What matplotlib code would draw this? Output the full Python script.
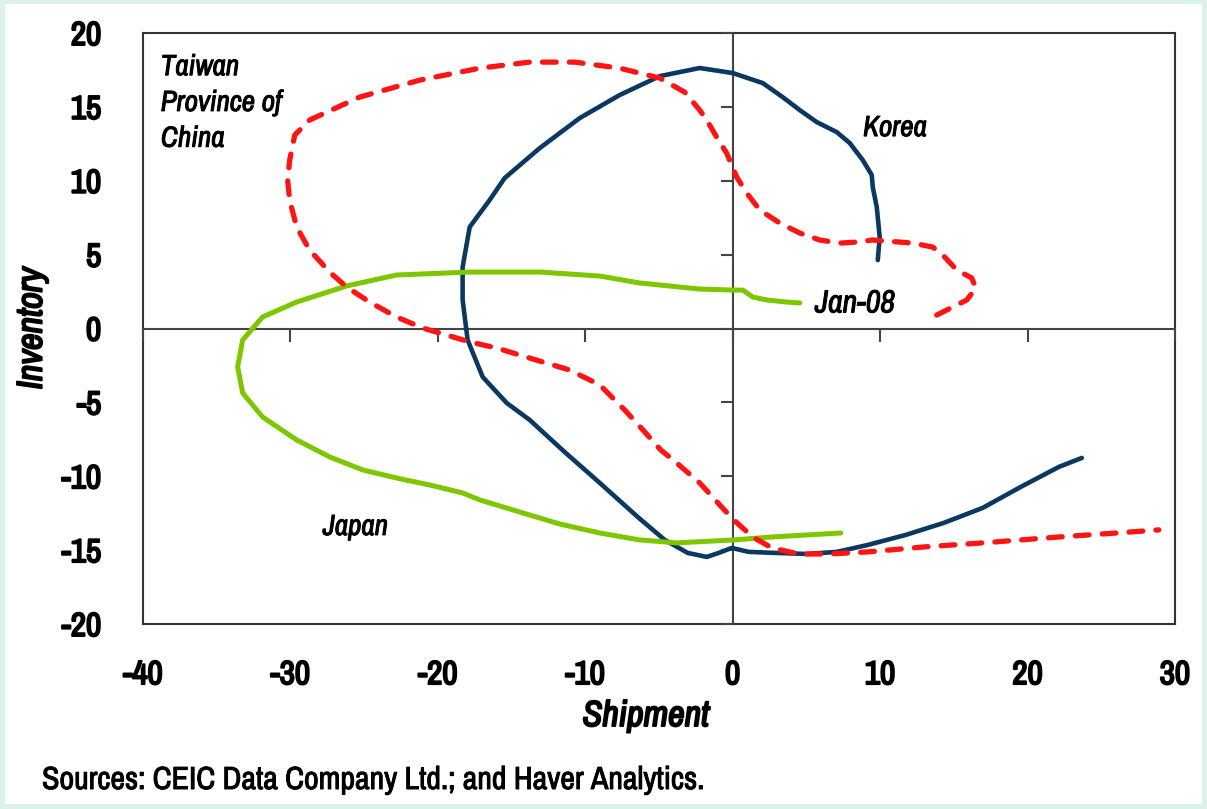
import matplotlib
matplotlib.use("Agg")
import matplotlib.pyplot as plt
from matplotlib.patches import Rectangle
from matplotlib import font_manager as fm
import matplotlib.patheffects as pe

# ---------------- data ----------------
korea_x = [9.84, 9.97, 9.77, 9.50, 9.43, 8.82, 7.94, 7.06, 5.70, 4.55, 3.39, 2.04, 0.0, -2.24,
           -4.95, -7.67, -10.38, -13.09, -15.47, -16.49, -17.84, -18.32, -18.32, -17.98, -16.96,
           -15.33, -13.77, -11.40, -9.02, -6.45, -4.61, -3.05, -1.76, -0.95, -0.07, 1.09, 2.92,
           5.02, 7.06, 9.16, 11.74, 14.31, 16.96, 19.54, 22.12, 23.68]
korea_y = [4.63, 6.19, 8.22, 9.57, 10.39, 11.40, 12.55, 13.29, 13.97, 14.78, 15.66, 16.61, 17.29, 17.63,
           17.08, 15.80, 14.24, 12.21, 10.18, 8.69, 6.87, 4.16, 1.93, -0.78, -3.28,
           -5.04, -6.19, -8.36, -10.45, -12.75, -14.31, -15.19, -15.46, -15.19, -14.85, -15.12, -15.19,
           -15.26, -15.12, -14.65, -13.97, -13.16, -12.14, -10.72, -9.37, -8.76]

japan_x = [4.55, 3.66, 2.31, 1.36, 0.68, 0.0, -2.24, -6.31, -9.02, -13.09, -17.84, -22.80, -26.19,
           -29.58, -31.89, -33.24, -33.58, -33.24, -31.89, -29.58, -27.34, -25.10, -22.80, -20.56,
           -18.32, -17.16, -14.45, -11.74, -9.02, -6.31, -3.80, 0.07, 2.65, 7.33]
japan_y = [1.73, 1.79, 1.93, 2.13, 2.60, 2.60, 2.67, 3.08, 3.55, 3.82, 3.82, 3.62, 2.88,
           1.79, 0.78, -0.78, -2.60, -4.36, -5.99, -7.54, -8.69, -9.57, -10.12, -10.59,
           -11.13, -11.60, -12.42, -13.23, -13.84, -14.31, -14.51, -14.31, -14.11, -13.84]

taiwan_x = [13.84, 15.88, 16.49, 16.21, 15.20, 14.25, 13.57, 12.21, 9.50, 8.41, 7.26, 5.90, 4.55,
            3.19, 1.83, 0.95, 0.27, -0.41, -1.09, -1.76, -2.24, -3.26, -4.95, -7.67, -10.72,
            -13.77, -17.16, -21.23, -25.31, -28.70, -29.71, -30.05, -30.19, -30.05, -29.58, -28.70,
            -27.34, -26.19, -24.63, -22.80, -21.03, -19.40, -17.84, -16.01, -13.77, -11.06, -9.02,
            -7.33, -5.97, -4.88, -3.80, -2.24, -0.75, 0.07, 1.36, 2.65, 4.48, 6.58, 9.16, 13.03,
            16.96, 22.12, 26.05, 28.90]
taiwan_y = [0.91, 1.93, 2.74, 3.42, 3.96, 4.97, 5.51, 5.78, 5.99, 5.85, 5.78, 5.99, 6.46,
            7.14, 8.02, 9.17, 10.25, 11.87, 12.95, 14.11, 14.78, 16.00, 16.95, 17.62, 18.03,
            18.03, 17.62, 16.81, 15.66, 14.11, 13.09, 11.40, 10.05, 8.69, 6.87, 5.31,
            3.82, 2.81, 1.79, 0.78, 0.03, -0.44, -0.91, -1.32, -2.00, -2.81, -3.82,
            -5.51, -7.00, -8.22, -9.10, -10.45, -12.08, -12.96, -14.11, -14.85, -15.26, -15.26, -15.12, -14.78,
            -14.51, -14.11, -13.84, -13.63]

x_ticks = [-40, -30, -20, -10, 0, 10, 20, 30]
y_ticks = [-20, -15, -10, -5, 0, 5, 10, 15, 20]

# ---------------- fonts ----------------
names = {f.name for f in fm.fontManager.ttflist}
FONT = "DejaVu Sans"
for cand in ["Liberation Sans Narrow", "Archivo Narrow", "Roboto Condensed", "PT Sans Narrow",
             "Fira Sans Condensed", "Barlow Semi Condensed", "IBM Plex Sans Condensed",
             "Open Sans Condensed", "Barlow Condensed", "Encode Sans Condensed", "Asap Condensed",
             "Saira Condensed", "Sofia Sans Condensed", "Pathway Gothic One", "Oswald"]:
    if cand in names:
        FONT = cand
        break
plt.rcParams["font.family"] = [FONT, "DejaVu Sans"]

BOLD = [pe.withStroke(linewidth=1.4, foreground="black")]
SEMI = [pe.withStroke(linewidth=0.7, foreground="black")]

NAVY = "#0b3861"
RED = "#ff1414"
GREEN = "#7dc600"

fig = plt.figure(figsize=(12.07, 8.09), dpi=100, facecolor="#dcf1eb")
fig.patches.append(Rectangle((5 / 1207, 5 / 809), 1197 / 1207, 800 / 809,
                             transform=fig.transFigure, facecolor="white", edgecolor="none", zorder=-5))

pos = [143 / 1207, (809 - 624) / 809, (1175 - 143) / 1207, (624 - 33) / 809]
ax = fig.add_axes(pos)
ax.set_facecolor("white")
ax.set_xlim(-40, 30)
ax.set_ylim(-20, 20)
for s in ax.spines.values():
    s.set_color("#333333")
    s.set_linewidth(1.5)
ax.set_xticks(x_ticks)
ax.set_yticks(y_ticks)
ax.set_xticklabels([str(v) for v in x_ticks])
ax.set_yticklabels([str(v) for v in y_ticks])
ax.tick_params(axis="both", length=0, labelsize=24)
ax.tick_params(axis="x", pad=26)
ax.tick_params(axis="y", pad=30)
for lab in ax.get_xticklabels() + ax.get_yticklabels():
    lab.set_fontweight("bold")
    lab.set_path_effects(BOLD)

ax.set_xlabel("Shipment", fontsize=26, fontweight="bold", fontstyle="italic", labelpad=4,
              path_effects=BOLD)
ax.xaxis.set_label_coords(503 / 1032, -75 / 591)
ax.set_ylabel("Inventory", fontsize=26, fontweight="bold", fontstyle="italic", labelpad=10,
              path_effects=BOLD)

# zero-crossing axes with ticks
ax2 = fig.add_axes(pos, sharex=ax, sharey=ax)
ax2.patch.set_visible(False)
ax2.spines["top"].set_visible(False)
ax2.spines["right"].set_visible(False)
for k in ("left", "bottom"):
    ax2.spines[k].set_position(("data", 0))
    ax2.spines[k].set_color("#444444")
    ax2.spines[k].set_linewidth(1.5)
ax2.tick_params(axis="both", direction="out", length=9, width=1.5, color="#444444",
                labelbottom=False, labelleft=False)
ax2.set_xticks(x_ticks)
ax2.set_yticks(y_ticks)

# series
ax2.plot(korea_x, korea_y, color=NAVY, lw=3.3, solid_capstyle="round", solid_joinstyle="round", zorder=3)
ax2.plot(japan_x, japan_y, color=GREEN, lw=3.6, solid_capstyle="round", solid_joinstyle="round", zorder=3)
ax2.plot(taiwan_x, taiwan_y, color=RED, lw=3.8, linestyle=(0, (2.6, 2.5)), dash_capstyle="round",
         dash_joinstyle="round", zorder=4)

lab_kw = dict(fontsize=21, fontstyle="italic", fontweight="bold", color="black", path_effects=SEMI)
ax2.text(-38.8, 15.3, "Taiwan\nProvince of\nChina", ha="left", va="center", linespacing=1.4, **lab_kw)
ax2.text(11.0, 13.6, "Korea", ha="center", va="center", **lab_kw)
ax2.text(-25.6, -13.4, "Japan", ha="center", va="center", **lab_kw)
lab_kw["fontsize"] = 23
ax2.text(8.3, 1.7, "Jan-08", ha="center", va="center", **lab_kw)

fig.text(42 / 1207, 1 - 780 / 809, "Sources: CEIC Data Company Ltd.; and Haver Analytics.",
         fontsize=23, ha="left", va="center", path_effects=SEMI)

fig.savefig("out.png", dpi=100, facecolor=fig.get_facecolor())
